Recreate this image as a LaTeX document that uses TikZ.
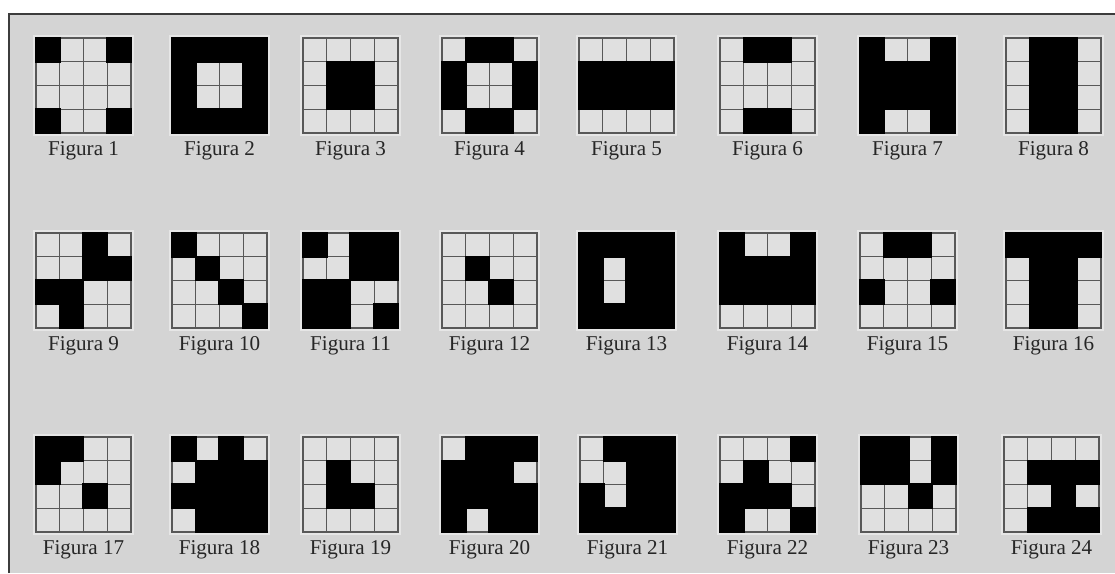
\documentclass[tikz,border=0pt]{standalone}
\usepackage{fontspec}
\setmainfont{Liberation Serif}
\usetikzlibrary{positioning}
\definecolor{panelgray}{RGB}{212,212,212}
\definecolor{cellgray}{RGB}{224,224,224}
\definecolor{linegray}{RGB}{88,88,88}
\definecolor{framegray}{RGB}{60,60,60}
\definecolor{halogray}{RGB}{230,230,230}
\tikzset{
  panel/.style={fill=panelgray},
  frameline/.style={draw=framegray, line width=0.05cm},
  gridbox/.style={minimum size=2.375cm, inner sep=0pt, outer sep=0pt},
  halo/.style={fill=halogray},
  cell/.style={fill=cellgray},
  gridline/.style={draw=linegray, line width=0.035cm},
  gridframe/.style={draw=linegray, line width=0.05cm},
  blackcell/.style={fill=black},
  figlabel/.style={font=\fontsize{15}{18}\selectfont, text=black!85, inner sep=0pt}
}

\begin{document}
\begin{tikzpicture}[x=0.025cm, y=-0.025cm]

  %% ── Rahmen ───────────────────────────────────────────────
  \fill[white] (0,0) rectangle (1115,573);
  \useasboundingbox (0,0) rectangle (1115,573);
  \fill[panel] (9,14) rectangle (1115,573);
  \draw[frameline] (9,573) -- (9,14) -- (1115,14);

  %% ── Figuren 1-24 (schwarze Felder als Spalte/Zeile) ─────
  \foreach \n/\cx/\cy/\cells in {
      1/36/38/{0/0,3/0,0/3,3/3},
      2/172/38/{0/0,1/0,2/0,3/0,0/1,3/1,0/2,3/2,0/3,1/3,2/3,3/3},
      3/303/38/{1/1,2/1,1/2,2/2},
      4/442/38/{1/0,2/0,0/1,3/1,0/2,3/2,1/3,2/3},
      5/579/38/{0/1,1/1,2/1,3/1,0/2,1/2,2/2,3/2},
      6/720/38/{1/0,2/0,1/3,2/3},
      7/860/38/{0/0,3/0,0/1,1/1,2/1,3/1,0/2,1/2,2/2,3/2,0/3,3/3},
      8/1006/38/{1/0,2/0,1/1,2/1,1/2,2/2,1/3,2/3},
      9/36/233/{2/0,2/1,3/1,0/2,1/2,1/3},
      10/172/233/{0/0,1/1,2/2,3/3},
      11/303/233/{0/0,2/0,3/0,2/1,3/1,0/2,1/2,0/3,1/3,3/3},
      12/442/233/{1/1,2/2},
      13/579/233/{0/0,1/0,2/0,3/0,0/1,2/1,3/1,0/2,2/2,3/2,0/3,1/3,2/3,3/3},
      14/720/233/{0/0,3/0,0/1,1/1,2/1,3/1,0/2,1/2,2/2,3/2},
      15/860/233/{1/0,2/0,0/2,3/2},
      16/1006/233/{0/0,1/0,2/0,3/0,1/1,2/1,1/2,2/2,1/3,2/3},
      17/36/437/{0/0,1/0,0/1,2/2},
      18/172/437/{0/0,2/0,1/1,2/1,3/1,0/2,1/2,2/2,3/2,1/3,2/3,3/3},
      19/303/437/{1/1,1/2,2/2},
      20/442/437/{1/0,2/0,3/0,0/1,1/1,2/1,0/2,1/2,2/2,3/2,0/3,2/3,3/3},
      21/580/437/{1/0,2/0,3/0,2/1,3/1,0/2,2/2,3/2,0/3,1/3,2/3,3/3},
      22/720/437/{3/0,1/1,0/2,1/2,2/2,0/3,3/3},
      23/861/437/{0/0,1/0,3/0,0/1,1/1,3/1,2/2},
      24/1004/437/{1/1,2/1,3/1,2/2,1/3,2/3,3/3}}{
    \node[gridbox] (g\n) at (\cx+47.5,\cy+47.5) {};
    \begin{scope}[shift={(g\n.north west)}]
      \fill[halo] (-3,-3) rectangle (98,98);
      \fill[cell] (0,0) rectangle (95,95);
      \foreach \k in {1,2,3}{
        \draw[gridline] (\k*23.75,0) -- (\k*23.75,95);
        \draw[gridline] (0,\k*23.75) -- (95,\k*23.75);
      }
      \draw[gridframe] (0,0) rectangle (95,95);
      \foreach \c/\r in \cells
        \fill[blackcell] (\c*23.75-1,\r*23.75-1) rectangle ++(25.75,25.75);
    \end{scope}
    \node[figlabel, below=0.21cm of g\n] (lbl\n) {Figura \n};
  }

\end{tikzpicture}
\end{document}
